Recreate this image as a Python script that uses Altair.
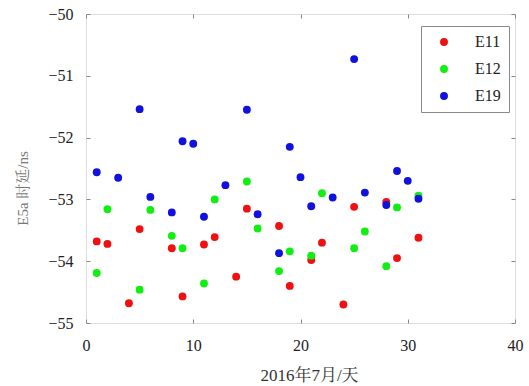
import altair as alt
import pandas as pd

series_names = ["E11", "E12", "E19"]
series_colors = ["#ee1111", "#11ee11", "#1111dd"]

days_e11 = [1, 2, 4, 5, 8, 9, 11, 12, 14, 15, 18, 19, 21, 22, 24, 25, 28, 29, 31]
vals_e11 = [-53.68, -53.72, -54.68, -53.48, -53.79, -54.57, -53.73, -53.61, -54.25, -53.15,
            -53.43, -54.40, -53.98, -53.70, -54.70, -53.12, -53.04, -53.95, -53.62]

days_e12 = [1, 2, 5, 6, 8, 9, 11, 12, 15, 16, 18, 19, 21, 22, 25, 26, 28, 29, 31]
vals_e12 = [-54.19, -53.16, -54.46, -53.17, -53.59, -53.79, -54.36, -53.00, -52.71, -53.47,
            -54.16, -53.84, -53.91, -52.90, -53.79, -53.52, -54.08, -53.13, -52.94]

days_e19 = [1, 3, 5, 6, 8, 9, 10, 11, 13, 15, 16, 18, 19, 20, 21, 23, 25, 26, 28, 29, 30, 31]
vals_e19 = [-52.56, -52.65, -51.54, -52.96, -53.21, -52.06, -52.10, -53.28, -52.77, -51.55, -53.24,
            -53.87, -52.15, -52.64, -53.11, -52.97, -50.73, -52.89, -53.09, -52.54, -52.70, -52.99]

x_ticks = [0, 10, 20, 30, 40]
y_ticks = [-55, -54, -53, -52, -51, -50]

rows = []
for i, (name, days, vals) in enumerate(zip(series_names, [days_e11, days_e12, days_e19],
                                           [vals_e11, vals_e12, vals_e19])):
    for d, v in zip(days, vals):
        rows.append({"day": d, "delay": v, "sat": name, "ord": i})
df = pd.DataFrame(rows)

FONT = "Liberation Serif, Noto Serif CJK SC, Noto Sans CJK SC, serif"
GRAY = "#888888"

xscale = alt.Scale(domain=[0, 40], nice=False, zero=False)
yscale = alt.Scale(domain=[-55, -50], nice=False, zero=False)

points = alt.Chart(df).mark_circle(size=62, opacity=1).encode(
    x=alt.X("day:Q", scale=xscale, axis=alt.Axis(
        orient="bottom", values=x_ticks, title="2016年7月/天", offset=-4, tickSize=4,
        domain=False, grid=False, tickColor=GRAY, labelPadding=14, labelFontSize=16,
        labelFlush=False, labelOverlap=False,
        labelColor="#222222", labelFont=FONT, titleFont=FONT, titleFontSize=17,
        titleFontWeight="normal", titleColor="#333333", titleX=223, titleY=56,
        titleBaseline="middle", titleAlign="center")),
    y=alt.Y("delay:Q", scale=yscale, axis=alt.Axis(
        orient="left", values=y_ticks, title="E5a  时延/ns", offset=-4, tickSize=4,
        domain=False, grid=False, tickColor=GRAY, labelPadding=13, labelFontSize=16,
        labelFlush=False, labelOverlap=False,
        labelColor="#222222", labelFont=FONT, titleFont=FONT, titleFontSize=15,
        titleFontWeight="normal", titleColor="#777777", titleX=-68, titleY=174,
        titleAngle=270, titleBaseline="middle", titleAlign="center")),
    color=alt.Color("sat:N", scale=alt.Scale(domain=series_names, range=series_colors),
                    legend=alt.Legend(orient="none", legendX=335, legendY=12, title=None,
                                      strokeColor=GRAY, fillColor="white", padding=8,
                                      symbolOffset=7, labelOffset=23, rowPadding=11,
                                      labelFontSize=16, labelFont=FONT, labelColor="#222222",
                                      symbolType="circle", symbolSize=62, symbolStrokeWidth=0)),
    order=alt.Order("ord:Q"),
)

frame = alt.Chart(df).mark_circle(opacity=0).encode(
    x=alt.X("day:Q", scale=xscale, axis=alt.Axis(
        orient="top", values=x_ticks, title=None, labels=False, offset=-4, tickSize=4,
        domain=False, grid=False, tickColor=GRAY)),
    y=alt.Y("delay:Q", scale=yscale, axis=alt.Axis(
        orient="right", values=y_ticks, title=None, labels=False, offset=-4, tickSize=4,
        domain=False, grid=False, tickColor=GRAY)),
)

chart = alt.layer(points, frame).resolve_axis(x="independent", y="independent").properties(
    width=429, height=309,
    padding={"left": 86, "top": 14, "right": 14, "bottom": 63},
    autosize=alt.AutoSizeParams(type="none"),
).configure_view(stroke=GRAY, strokeWidth=1).configure(font=FONT, background="white")

chart.save("out.html", embed_options={"renderer": "svg", "actions": False})
